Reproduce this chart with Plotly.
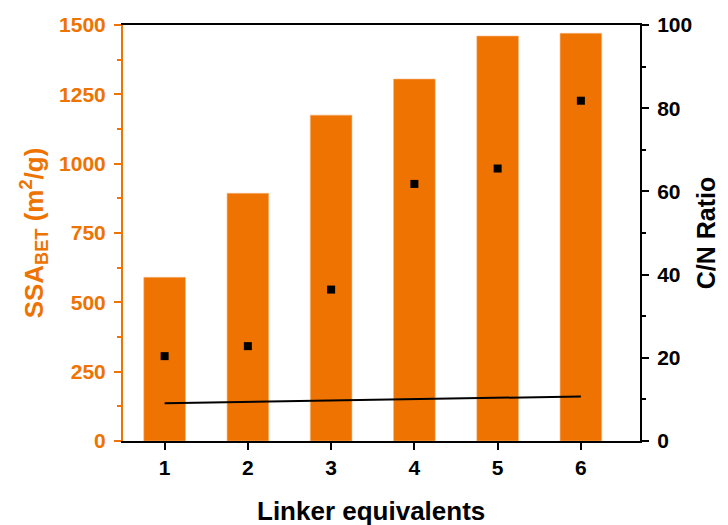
import plotly.graph_objects as go

# Linker equivalents on the x axis
linker_eq = [1, 2, 3, 4, 5, 6]
# BET specific surface area (m2/g)
ssa_bet = [590, 893, 1175, 1305, 1460, 1470]
# C/N ratio measured for each sample
cn_ratio = [20.4, 22.8, 36.4, 61.8, 65.5, 81.8]
# reference C/N trend line
cn_trend = [9.1, 9.4, 9.7, 10.0, 10.3, 10.7]

ORANGE = "#EE7300"
FONT = "Liberation Sans"

fig = go.Figure()
fig.add_trace(go.Bar(
    x=linker_eq, y=ssa_bet, width=0.5,
    marker=dict(color=ORANGE, line=dict(width=0.6, color="#F6B27A")),
    yaxis="y", showlegend=False,
))
fig.add_trace(go.Scatter(
    x=linker_eq, y=cn_trend, mode="lines",
    line=dict(color="black", width=2),
    yaxis="y2", showlegend=False,
))
fig.add_trace(go.Scatter(
    x=linker_eq, y=cn_ratio, mode="markers",
    marker=dict(symbol="square", color="black", size=8),
    yaxis="y2", showlegend=False,
))

tick_font = dict(family=FONT, size=21, color="black", weight="bold")
title_size = 26
fig.update_layout(
    width=728, height=525,
    margin=dict(l=123, r=88, t=25, b=84),
    plot_bgcolor="white", paper_bgcolor="white",
    xaxis=dict(
        range=[0.5, 6.71], tickvals=linker_eq,
        showline=True, linecolor="black", linewidth=2, mirror=True,
        ticks="outside", ticklen=7, tickwidth=2, tickcolor="black",
        tickfont=tick_font, showgrid=False, zeroline=False, automargin=False,
    ),
    yaxis=dict(
        range=[0, 1500], tickvals=[0, 250, 500, 750, 1000, 1250, 1500],
        showline=True, linecolor=ORANGE, linewidth=2,
        ticks="outside", ticklen=7, tickwidth=2, tickcolor=ORANGE,
        ticklabelstandoff=4,
        minor=dict(tickvals=[125, 375, 625, 875, 1125, 1375], ticks="outside", ticklen=4, tickwidth=2, tickcolor=ORANGE),
        tickfont=dict(family=FONT, size=21, color=ORANGE, weight="bold"),
        showgrid=False, zeroline=False, automargin=False,
        title=dict(text="SSA<sub>BET</sub> (m<sup>2</sup>/g)", font=dict(family=FONT, size=title_size, color=ORANGE, weight="bold"), standoff=8),
    ),
    yaxis2=dict(
        range=[0, 100], tickvals=[0, 20, 40, 60, 80, 100],
        overlaying="y", side="right",
        showline=True, linecolor="black", linewidth=2,
        ticks="outside", ticklen=7, tickwidth=2, tickcolor="black",
        ticklabelstandoff=4,
        minor=dict(tickvals=[10, 30, 50, 70, 90], ticks="outside", ticklen=4, tickwidth=2, tickcolor="black"),
        tickfont=tick_font, showgrid=False, zeroline=False, automargin=False,
        title=dict(text="C/N Ratio", font=dict(family=FONT, size=title_size - 1, color="black", weight="bold"), standoff=6),
    ),
    annotations=[dict(
        text="Linker equivalents", xref="paper", yref="paper",
        x=0.48, y=-0.168, xanchor="center", yanchor="middle", showarrow=False,
        font=dict(family=FONT, size=title_size, color="black", weight="bold"),
    )],
)

fig.write_html("out.html")
